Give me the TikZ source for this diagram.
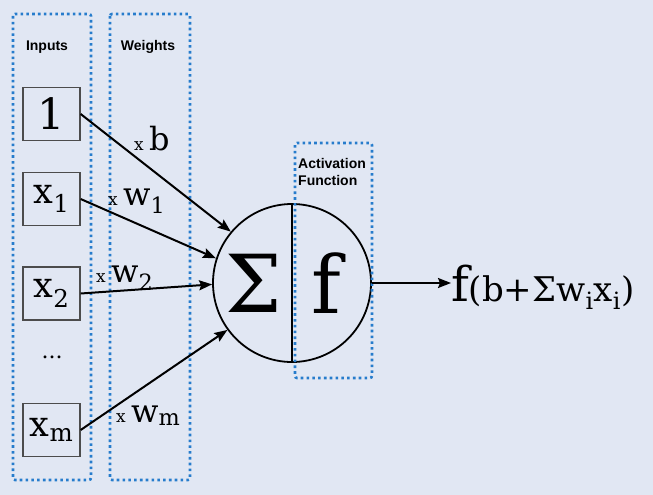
\documentclass[tikz,border=0pt]{standalone}
\usepackage{fontspec}
\setmainfont{DejaVu Serif}
\newfontfamily\labelfont{Liberation Sans}
\usepackage{tikz}
\usetikzlibrary{arrows.meta}
\definecolor{bgcol}{RGB}{225,231,243}
\definecolor{dotblue}{RGB}{38,124,204}
\newcommand{\smallx}{{\fontsize{17}{17}\selectfont x}}

\begin{document}
\begin{tikzpicture}[
  x=1pt,
  y=-1pt,
  >={Stealth[length=13pt, width=10pt, inset=2pt]},
  every node/.style={inner sep=0pt},
  inbox/.style={draw=black!70, line width=1.3pt, minimum width=57pt, minimum height=53pt, font=\fontsize{35}{35}\selectfont},
  group/.style={draw=dotblue, line width=2.6pt, dash pattern=on 2.6pt off 3.2pt, rounded corners=2pt},
  title/.style={font=\labelfont\bfseries\fontsize{14}{17}\selectfont},
  wlabel/.style={anchor=base west, font=\fontsize{32}{32}\selectfont},
  conn/.style={->, line width=2pt}
]
\fill[bgcol] (0,0) rectangle (653,495);

% dotted groups
\draw[group] (13,14) rectangle (91,480);
\draw[group] (110,14) rectangle (190,480);
\node[title] (tin) at (47,47) {Inputs};
\node[title] (tw) at (148,47) {Weights};

% inputs
\node[inbox, font=\fontsize{43}{43}\selectfont] (one) at (51.5,114) {1};
\node[inbox] (x1) at (51.5,199) {x\textsubscript{1}};
\node[inbox] (x2) at (51.5,293.5) {x\textsubscript{2}};
\node[font=\fontsize{22}{22}\selectfont] (dots) at (52,357) {...};
\node[inbox] (xm) at (51.5,430) {x\textsubscript{m}};

% neuron
\node[circle, draw, line width=1.8pt, minimum size=158pt] (neuron) at (292,283) {};
\draw[line width=1.8pt] (neuron.north) -- (neuron.south);
\node[font=\fontsize{80}{80}\selectfont] (sum) at (254,283) {Σ};
\node[font=\fontsize{80}{80}\selectfont] (act) at (326,283) {f};
\draw[group] (295,143) rectangle (372,378);
\node[title, align=left, anchor=north west] (tact) at (298,158) {Activation\\Function};

% weighted connections
\draw[conn] (one.east) -- (neuron.140);
\draw[conn] (x1.east) -- (neuron.162);
\draw[conn] (x2.east) -- (neuron.181);
\draw[conn] (xm.east) -- (neuron.216);
\node[wlabel] (wb) at (134,150) {\smallx\,b};
\node[wlabel] (w1) at (108,205) {\smallx\,w\textsubscript{1}};
\node[wlabel] (w2) at (96,282) {\smallx\,w\textsubscript{2}};
\node[wlabel] (wm) at (116,422) {\smallx\,w\textsubscript{m}};

% output
\node[anchor=base west] (out) at (451,301) {{\fontsize{48}{48}\selectfont f}{\fontsize{34}{34}\selectfont(b+Σw\textsubscript{i}x\textsubscript{i})}};
\draw[conn] (neuron.east) -- (neuron.east -| out.west);
\end{tikzpicture}
\end{document}
